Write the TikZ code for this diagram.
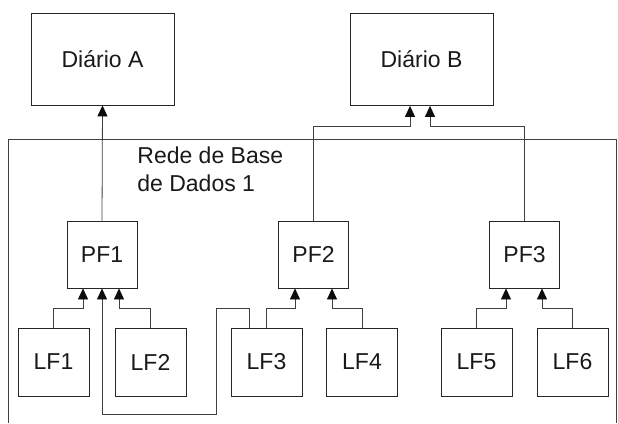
\documentclass[tikz,border=0pt]{standalone}
\usepackage{fontspec}
\setmainfont{Liberation Sans}
\usetikzlibrary{arrows.meta}

\begin{document}
\begin{tikzpicture}[x=1pt,y=1pt,line width=0.8pt,
  box/.style={draw=black!85,text=black!90,font=\fontsize{23}{28}\selectfont,inner sep=0pt},
  db/.style={box,minimum width=143pt,minimum height=92pt},
  pbox/.style={box,minimum width=70pt,minimum height=67pt},
  lbox/.style={box,minimum width=71pt,minimum height=68pt},
  arr/.style={draw=black!75,-{Triangle[width=10pt,length=11pt,black!95]}}]
\useasboundingbox (0,0) rectangle (618,-423);
% frame of the network
\draw [black!75] (8,-423) -- (8,-139) -- (616,-139) -- (616,-423);
\node [anchor=base west,align=left,text=black!90,inner sep=0pt,
  font=\fontsize{23}{28}\selectfont] (rede) at (137,-191) {Rede de Base\\de Dados 1};
% journals
\node [db] (dA) at (102.5,-59) {Diário A};
\node [db] (dB) at (421.5,-59.5) {Diário B};
% PF nodes
\node [pbox] (pf1) at (102,-254.5) {PF1};
\node [pbox] (pf2) at (313.5,-254.5) {PF2};
\node [pbox] (pf3) at (524.5,-254.5) {PF3};
% LF nodes
\node [lbox] (lf1) at (53.5,-362) {LF1};
\node [lbox] (lf2) at (150.5,-362) {LF2};
\node [lbox] (lf3) at (266.5,-362) {LF3};
\node [lbox] (lf4) at (362,-362) {LF4};
\node [lbox] (lf5) at (476.5,-362) {LF5};
\node [lbox] (lf6) at (572.5,-362) {LF6};
% PF -> journals
\draw [arr] (pf1.north) -- (dA.south);
\draw [arr] (pf2.north) |- ([shift={(-11.5,-20)}]dB.south) -- ([xshift=-11.5pt]dB.south);
\draw [arr] (pf3.north) |- ([shift={(8.5,-20)}]dB.south) -- ([xshift=8.5pt]dB.south);
% LF -> PF
\draw [arr] (lf1.north) |- ([shift={(-19,-20)}]pf1.south) -- ([xshift=-19pt]pf1.south);
\draw [arr] (lf2.north) |- ([shift={(17,-20)}]pf1.south) -- ([xshift=17pt]pf1.south);
\draw [arr] ([xshift=-17.5pt]lf3.north) -- ++(0,19) -| ++(-33,-106) -| (pf1.south);
\draw [arr] (lf3.north) |- ([shift={(-18.5,-20)}]pf2.south) -- ([xshift=-18.5pt]pf2.south);
\draw [arr] (lf4.north) |- ([shift={(18.5,-20)}]pf2.south) -- ([xshift=18.5pt]pf2.south);
\draw [arr] (lf5.north) |- ([shift={(-18.5,-20)}]pf3.south) -- ([xshift=-18.5pt]pf3.south);
\draw [arr] (lf6.north) |- ([shift={(17.5,-20)}]pf3.south) -- ([xshift=17.5pt]pf3.south);
\end{tikzpicture}
\end{document}
